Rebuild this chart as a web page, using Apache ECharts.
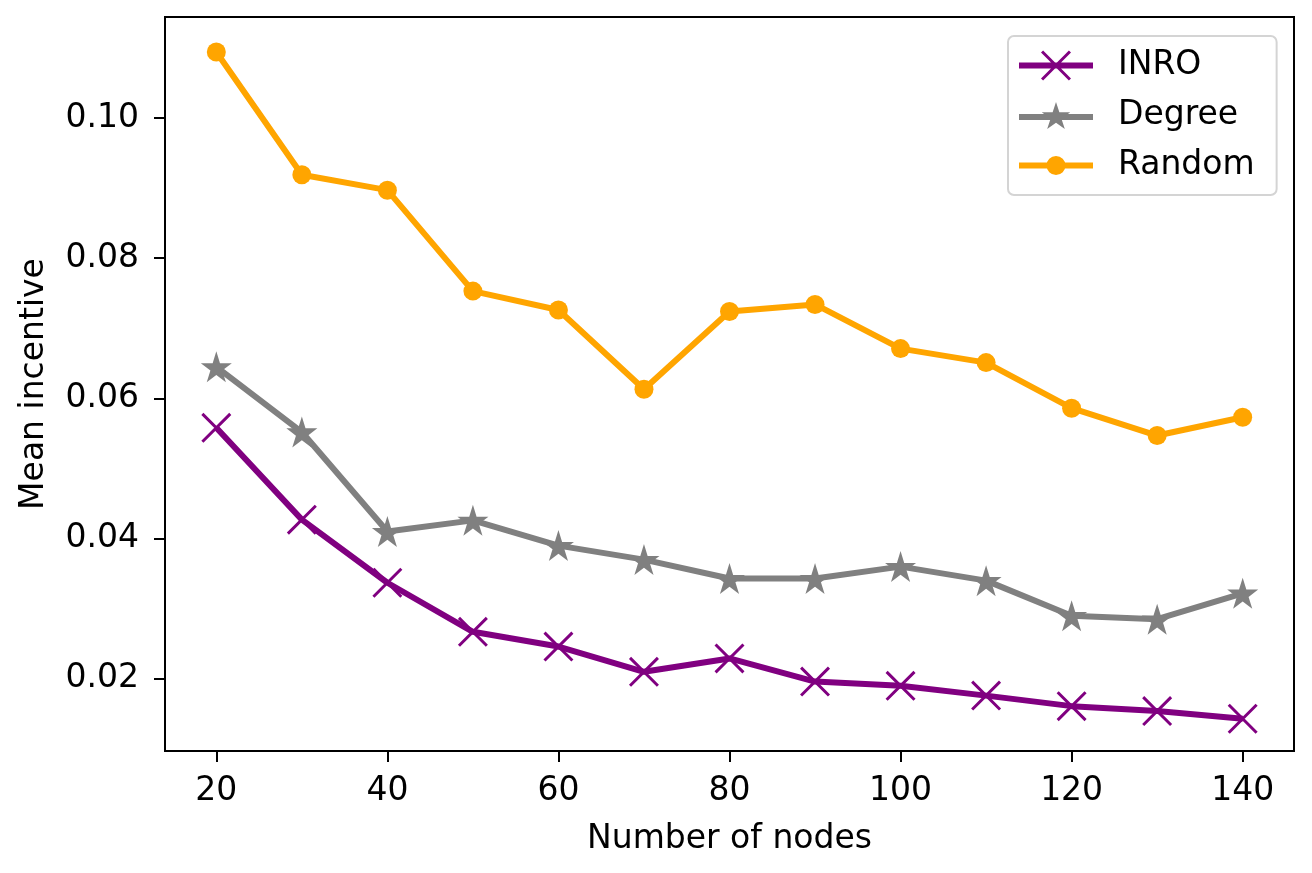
<!DOCTYPE html>
<html>
<head>
<meta charset="utf-8">
<script src="https://cdn.jsdelivr.net/npm/echarts@6.0.0/dist/echarts.min.js"></script>
<style>
  html, body { margin: 0; padding: 0; background: #fff; }
  #chart { width: 1312px; height: 873px; }
</style>
</head>
<body>
<div id="chart"></div>
<script>
// data
const nodes = [20, 30, 40, 50, 60, 70, 80, 90, 100, 110, 120, 130, 140];
const inro = [0.0558, 0.0427, 0.0337, 0.0267, 0.0246, 0.0210, 0.0229, 0.0196, 0.0190, 0.0176, 0.0161, 0.0154, 0.0143];
const degree = [0.0645, 0.0552, 0.0410, 0.0426, 0.0390, 0.0370, 0.0343, 0.0343, 0.0360, 0.0340, 0.0290, 0.0285, 0.0322];
const random = [0.1094, 0.0919, 0.0897, 0.0753, 0.0726, 0.0613, 0.0724, 0.0734, 0.0671, 0.0651, 0.0586, 0.0547, 0.0573];
const xTicks = [20, 40, 60, 80, 100, 120, 140];
const yTicks = [0.02, 0.04, 0.06, 0.08, 0.10];

// marker shapes (matplotlib 'x', '*' and 'o'), as path strings
function crossD(cx, cy, s) {
    const h = s / 2, t = s * 0.07;
    const p = (x, y) => (cx + x).toFixed(2) + ',' + (cy + y).toFixed(2);
    return 'M' + p(-h, -h + t) + 'L' + p(-h + t, -h) + 'L' + p(h, h - t) + 'L' + p(h - t, h) + 'Z' +
           'M' + p(h - t, -h) + 'L' + p(h, -h + t) + 'L' + p(-h + t, h) + 'L' + p(-h, h - t) + 'Z';
}
function starD(cx, cy, r) {
    let d = '';
    for (let i = 0; i < 10; i++) {
        const rr = i % 2 === 0 ? r : r * 0.382;
        const a = -Math.PI / 2 + i * Math.PI / 5;
        d += (i === 0 ? 'M' : 'L') + (cx + rr * Math.cos(a)).toFixed(2) + ',' + (cy + rr * Math.sin(a)).toFixed(2);
    }
    return d + 'Z';
}
function circleD(cx, cy, r) {
    return 'M' + (cx + r) + ',' + cy + 'A' + r + ',' + r + ' 0 1 1 ' + (cx - r) + ',' + cy +
           'A' + r + ',' + r + ' 0 1 1 ' + (cx + r) + ',' + cy + 'Z';
}
// legend icon: thick line with the marker in the middle
const LW = 74, LH = 30, LINE = 6;
const lineD = 'M0,' + (LH / 2 - LINE / 2) + 'L' + LW + ',' + (LH / 2 - LINE / 2) +
              'L' + LW + ',' + (LH / 2 + LINE / 2) + 'L0,' + (LH / 2 + LINE / 2) + 'Z';

const font = 'DejaVu Sans';
const fs = 33;
const chart = echarts.init(document.getElementById('chart'));

function series(name, vals, color, symbol, size) {
    return {
        name: name, type: 'line',
        data: nodes.map((n, i) => [n, vals[i]]),
        symbol: symbol, symbolSize: size, showSymbol: true,
        itemStyle: { color: color },
        lineStyle: { color: color, width: LINE },
        emphasis: { disabled: true },
        animation: false
    };
}

chart.setOption({
    animation: false,
    textStyle: { fontFamily: font },
    grid: { left: 165, right: 18, top: 17, bottom: 122, show: true, borderColor: '#000', borderWidth: 2 },
    legend: {
        orient: 'vertical', left: 1008, top: 36,
        padding: [13, 22, 13, 11],
        itemWidth: LW, itemHeight: LH, itemGap: 17,
        borderColor: '#d4d4d4', borderWidth: 2, borderRadius: 6,
        textStyle: { fontFamily: font, fontSize: fs, color: '#000', padding: [0, 0, 0, 20] },
        data: [
            { name: 'INRO', icon: 'path://' + lineD + crossD(LW / 2, LH / 2, 30) },
            { name: 'Degree', icon: 'path://' + lineD + starD(LW / 2, LH / 2, 15) },
            { name: 'Random', icon: 'path://' + lineD + circleD(LW / 2, LH / 2, 9.5) }
        ]
    },
    xAxis: {
        type: 'value', min: 14, max: 146,
        name: 'Number of nodes', nameLocation: 'middle', nameGap: 72,
        nameTextStyle: { fontFamily: font, fontSize: fs, color: '#000' },
        axisLine: { show: true, lineStyle: { color: '#000', width: 2 } },
        axisTick: { show: true, inside: false, length: 11, lineStyle: { color: '#000', width: 2 }, customValues: xTicks },
        axisLabel: { fontFamily: font, fontSize: fs, color: '#000', margin: 24, customValues: xTicks },
        splitLine: { show: false }
    },
    yAxis: {
        type: 'value', min: 0.0097, max: 0.1144,
        name: 'Mean incentive', nameLocation: 'middle', nameGap: 114,
        nameTextStyle: { fontFamily: font, fontSize: fs, color: '#000' },
        axisLine: { show: true, lineStyle: { color: '#000', width: 2 } },
        axisTick: { show: true, inside: false, length: 11, lineStyle: { color: '#000', width: 2 }, customValues: yTicks },
        axisLabel: { fontFamily: font, fontSize: fs, color: '#000', margin: 26, customValues: yTicks,
            formatter: v => v.toFixed(2) },
        splitLine: { show: false }
    },
    series: [
        series('INRO', inro, '#800080', 'path://' + crossD(5, 5, 10), 30),
        series('Degree', degree, '#808080', 'path://' + starD(10, 10, 10), 31),
        series('Random', random, '#FFA500', 'circle', 19)
    ]
});
</script>
</body>
</html>
